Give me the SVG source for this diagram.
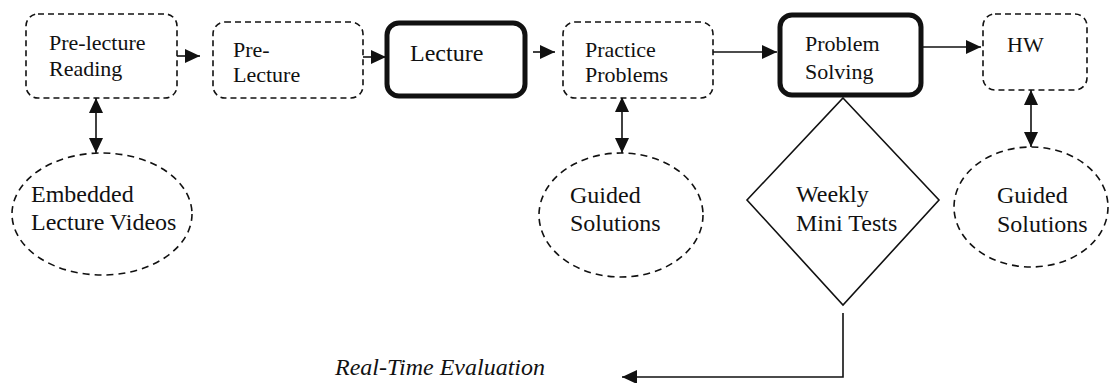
<svg xmlns="http://www.w3.org/2000/svg" width="1109" height="383" viewBox="0 0 1109 383">
<style>
.dbox{fill:#fff;stroke:#111;stroke-width:1.6;stroke-dasharray:6 4}
.tbox{fill:#fff;stroke:#111;stroke-width:5}
.dell{fill:#fff;stroke:#111;stroke-width:1.6;stroke-dasharray:7 5}
text{font-family:'Liberation Serif','Times New Roman',Times,'DejaVu Serif',serif;fill:#111}
.s22{font-size:22px}
.s24{font-size:24px}
.ln{fill:none;stroke:#111;stroke-width:1.6}
</style>
<defs>
<marker id="ahL" markerWidth="15" markerHeight="14" refX="15" refY="7" orient="auto-start-reverse" markerUnits="userSpaceOnUse" viewBox="0 0 15 14"><path d="M0,0 L15,7 L0,14 Z" fill="#111"/></marker>
</defs>
<g id="connectors">
<line class="ln" x1="177" y1="56" x2="200" y2="56" marker-end="url(#ahL)"/>
<line class="ln" x1="363" y1="57" x2="386" y2="57" marker-end="url(#ahL)"/>
<line class="ln" x1="533" y1="52" x2="555" y2="52" marker-end="url(#ahL)"/>
<line class="ln" x1="713" y1="52" x2="777" y2="52" marker-end="url(#ahL)"/>
<line class="ln" x1="923" y1="47" x2="981" y2="47" marker-end="url(#ahL)"/>
<line class="ln" x1="96" y1="98" x2="96" y2="153" marker-start="url(#ahL)" marker-end="url(#ahL)"/>
<line class="ln" x1="622" y1="97" x2="622" y2="153" marker-start="url(#ahL)" marker-end="url(#ahL)"/>
<line class="ln" x1="1031" y1="90" x2="1031" y2="147" marker-start="url(#ahL)" marker-end="url(#ahL)"/>
<polyline class="ln" points="843,313 843,377 622,377" marker-end="url(#ahL)"/>
</g>
<g id="n1"><rect class="dbox" x="26" y="14" width="151" height="84" rx="12"/>
<text class="s22" x="49" y="50">Pre-lecture</text><text class="s22" x="49" y="76">Reading</text></g>
<g id="n2"><rect class="dbox" x="213" y="22" width="150" height="76" rx="12"/>
<text class="s22" x="233" y="57">Pre-</text><text class="s22" x="233" y="82">Lecture</text></g>
<g id="n3"><rect class="tbox" x="387" y="23" width="138" height="73" rx="12"/>
<text class="s24" x="410" y="61">Lecture</text></g>
<g id="n4"><rect class="dbox" x="563" y="22" width="150" height="76" rx="12"/>
<text class="s22" x="585" y="57">Practice</text><text class="s22" x="585" y="82">Problems</text></g>
<g id="n5"><rect class="tbox" x="780" y="15" width="141" height="80" rx="12"/>
<text class="s22" x="805" y="51">Problem</text><text class="s22" x="805" y="79">Solving</text></g>
<g id="n6"><rect class="dbox" x="983" y="14" width="104" height="76" rx="12"/>
<text class="s22" x="1007" y="52">HW</text></g>
<g id="n7"><ellipse class="dell" cx="102" cy="214" rx="90" ry="61"/>
<text class="s24" x="31" y="202">Embedded</text><text class="s24" x="31" y="230">Lecture Videos</text></g>
<g id="n8"><ellipse class="dell" cx="621" cy="215" rx="82" ry="62"/>
<text class="s24" x="570" y="203">Guided</text><text class="s24" x="570" y="231">Solutions</text></g>
<g id="n9"><polygon points="843,98 939,200 843,305 747,200" fill="#fff" stroke="#111" stroke-width="1.6"/>
<text class="s24" x="796" y="202">Weekly</text><text class="s24" x="796" y="231">Mini Tests</text></g>
<g id="n10"><ellipse class="dell" cx="1031" cy="207" rx="77" ry="60"/>
<text class="s24" x="997" y="203">Guided</text><text class="s24" x="997" y="232">Solutions</text></g>
<text class="s24" x="335" y="375" font-style="italic">Real-Time Evaluation</text>
</svg>
